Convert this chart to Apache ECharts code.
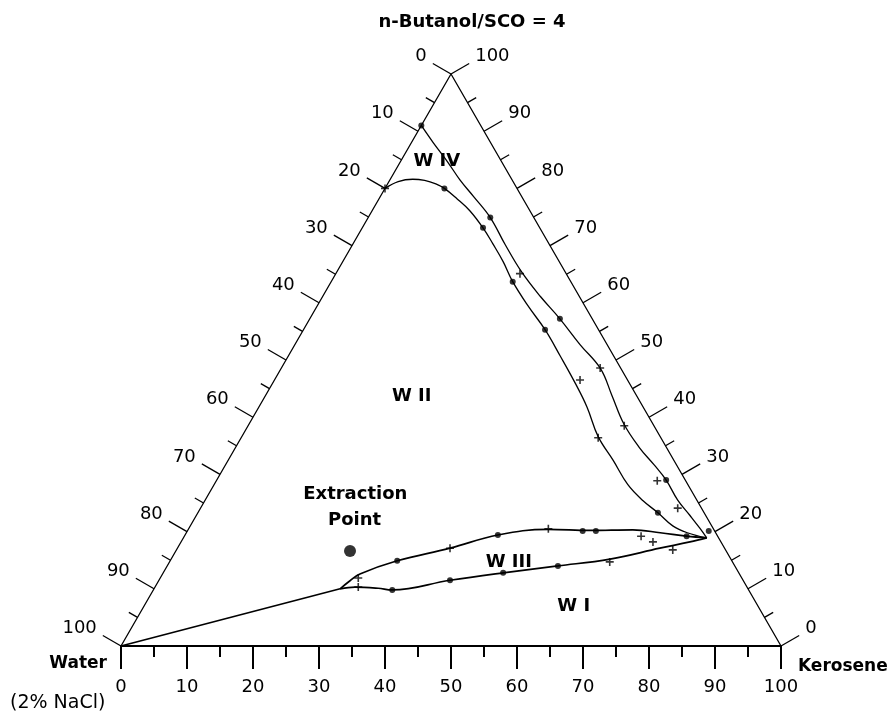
<!DOCTYPE html>
<html><head><meta charset="utf-8">
<script src="https://cdn.jsdelivr.net/npm/echarts@6/dist/echarts.min.js"></script>
<style>html,body{margin:0;padding:0;background:#fff}#c{width:893px;height:720px}</style>
</head><body><div id="c"></div>
<script>
// All compositions are [Kerosene %, n-Butanol/SCO %]; Water = 100 - both.
const curveA = [[0,80],[1.4,81.2],[3.4,81.6],[5.3,81.4],[7.3,80.8],[9.0,80.0],[11.8,78.2],[14.8,76.1],[18.3,73.1],[21.2,70.3],[24.3,67.2],[27.5,63.7],[31.9,59.5],[36.6,55.3],[41.2,50.7],[45.8,46.0],[49.7,41.8],[54.0,36.6],[58.4,32.4],[62.7,28.2],[66.4,25.4],[69.7,23.3],[73.1,21.0],[75.9,19.8],[79.3,18.9]];
const curveB = [[0,91],[3.3,88.0],[7.1,84.7],[10.6,81.5],[14.1,78.6],[18.5,74.9],[23.1,70.2],[28.0,65.4],[33.0,61.1],[37.9,57.2],[43.2,52.7],[48.4,48.5],[52.4,43.9],[56.8,38.8],[61.3,34.6],[64.9,31.7],[68.1,29.0],[71.6,25.5],[74.7,22.9],[77.4,20.6],[79.3,18.9]];
const w3Upper = [[28.2,10.0],[29.0,11.4],[29.9,12.6],[34.4,14.9],[41.3,17.1],[47.4,19.4],[54.5,20.4],[61.0,20.2],[67.4,20.3],[71.8,19.8],[76.1,19.2],[79.3,18.9]];
const w3Lower = [[28.2,10.0],[30.3,10.3],[33.9,10.1],[36.2,9.8],[44.1,11.5],[51.5,12.8],[59.2,14.0],[66.5,15.2],[73.1,17.1],[77.1,18.2],[79.3,18.9]];
const baseLine = [[0,0],[28.2,10.0]];
const dotPoints = [[0,91],[9.0,80.0],[18.5,74.9],[18.3,73.1],[27.5,63.7],[37.9,57.2],[36.6,55.3],[68.1,29.0],[69.7,23.3],[34.4,14.9],[47.4,19.4],[59.9,20.1],[61.9,20.1],[76.1,19.2],[79.0,20.1],[44.1,11.5],[51.5,12.8],[59.2,14.0],[36.2,9.8]];
const plusPoints = [[0,80],[27.9,65.1],[46.3,46.5],[48.3,48.6],[54.1,36.4],[57.0,38.5],[66.8,28.9],[72.3,24.1],[41.3,17.1],[54.5,20.5],[69.2,19.2],[71.5,18.2],[75.2,16.8],[66.7,14.7],[30.0,11.9],[30.8,10.3]];
const extractionPoint = [[26.4,16.6]];
const regionNames = ['W IV','W II','W III','W I','Extraction','Point'];
const regionPos = [[5.5,84.7],[22.2,43.7],[51.4,14.7],[65.1,7.0],[22.2,26.6],[24.4,22.0]];
const majorTicks = [0,10,20,30,40,50,60,70,80,90,100];
const minorTicks = [5,15,25,35,45,55,65,75,85,95];
const vertices = [[0,0],[0,100],[100,0]];

const S3 = Math.sqrt(3)/2;
const toXY = p => [p[0] + p[1]/2, p[1]*S3];
const FONT = '"DejaVu Sans", sans-serif';

// side ticks: [side (0 left=Water, 1 right=Butanol), value, major]
const sideTickData = [];
majorTicks.forEach(v => { sideTickData.push([0,v,1]); sideTickData.push([1,v,1]); });
minorTicks.forEach(v => { sideTickData.push([0,v,0]); sideTickData.push([1,v,0]); });

function sidePoint(side, v) {
  return side === 0 ? toXY([0, 100 - v]) : toXY([100 - v, v]);
}

function lineSeries(data, width) {
  return {type:'line', data: data.map(toXY), symbol:'none', smooth:0.4, silent:true, clip:false,
    lineStyle:{color:'#000', width: width || 1.2}, z:3, animation:false};
}

const chart = echarts.init(document.getElementById('c'), null, {renderer:'canvas'});
chart.setOption({
  animation:false,
  backgroundColor:'#fff',
  grid:{left:121, right:112, top:74, bottom:74, containLabel:false},
  xAxis:{type:'value', min:0, max:100, interval:10, position:'bottom',
    axisLine:{show:true, onZero:false, lineStyle:{color:'#000', width:2}},
    axisTick:{show:true, inside:false, length:23, lineStyle:{color:'#000', width:2}},
    minorTick:{show:true, splitNumber:2, length:11, lineStyle:{color:'#000', width:2}},
    splitLine:{show:false}, minorSplitLine:{show:false},
    axisLabel:{show:true, margin:32, color:'#000', fontSize:18, fontFamily:FONT}},
  yAxis:{type:'value', min:0, max:100*S3, show:false, splitLine:{show:false}},
  graphic:[
    {type:'text', x:472, y:22, style:{text:'n-Butanol/SCO = 4', font:'bold 18px '+FONT, fill:'#000', align:'center', textAlign:'center', verticalAlign:'middle', textVerticalAlign:'middle'}},
    {type:'text', x:107, y:664, style:{text:'Water', font:'bold 17px '+FONT, fill:'#000', align:'right', textAlign:'right', verticalAlign:'middle', textVerticalAlign:'middle'}},
    {type:'text', x:10, y:703, style:{text:'(2% NaCl)', font:'19px '+FONT, fill:'#000', align:'left', textAlign:'left', verticalAlign:'middle', textVerticalAlign:'middle'}},
    {type:'text', x:798, y:667, style:{text:'Kerosene', font:'bold 17px '+FONT, fill:'#000', align:'left', textAlign:'left', verticalAlign:'middle', textVerticalAlign:'middle'}}
  ],
  series:[
    {type:'line', data:vertices.map(toXY), symbol:'none', silent:true, clip:false,
      lineStyle:{color:'#000', width:1.3}, z:2},
    {type:'custom', coordinateSystem:'cartesian2d', data:sideTickData, clip:false, silent:true, z:2,
      renderItem:function(params, api){
        const side = api.value(0), v = api.value(1), major = api.value(2);
        const p = api.coord(sidePoint(side, v));
        const dir = side === 0 ? [-0.866, -0.5] : [0.866, -0.5];
        const len = major ? 21 : 10;
        const e = [p[0] + dir[0]*len, p[1] + dir[1]*len];
        const children = [{type:'line', shape:{x1:p[0], y1:p[1], x2:e[0], y2:e[1]}, style:{stroke:'#000', lineWidth:1.3}}];
        if (major) {
          const al = side === 0 ? 'right' : 'left';
          children.push({type:'text', x: e[0] + (side === 0 ? -6 : 6), y: e[1] - 7,
            style:{text:String(v), font:'18px '+FONT, fill:'#000', align:al, textAlign:al, verticalAlign:'middle', textVerticalAlign:'middle'}});
        }
        return {type:'group', children:children};
      }},
    lineSeries(curveA, 1.3),
    lineSeries(curveB, 1.3),
    lineSeries(w3Upper, 1.7),
    lineSeries(w3Lower, 1.7),
    lineSeries(baseLine, 1.7),
    {type:'scatter', data:dotPoints.map(toXY), symbol:'circle', symbolSize:6, itemStyle:{color:'#000'}, silent:true, clip:false, z:4},
    {type:'scatter', data:plusPoints.map(toXY), symbol:'path://M-0.8,-4H0.8V4H-0.8Z M-4,-0.8H4V0.8H-4Z', symbolSize:8, itemStyle:{color:'#000'}, silent:true, clip:false, z:4},
    {type:'scatter', data:extractionPoint.map(toXY), symbol:'circle', symbolSize:12, itemStyle:{color:'#000'}, silent:true, clip:false, z:4},
    {type:'custom', coordinateSystem:'cartesian2d', data:regionPos.map(toXY), clip:false, silent:true, z:5,
      renderItem:function(params, api){
        const p = api.coord([api.value(0), api.value(1)]);
        return {type:'text', x:p[0], y:p[1], style:{text:regionNames[params.dataIndex], font:'bold 18px '+FONT, fill:'#000', align:'center', textAlign:'center', verticalAlign:'middle', textVerticalAlign:'middle'}};
      }}
  ]
});
</script></body></html>
